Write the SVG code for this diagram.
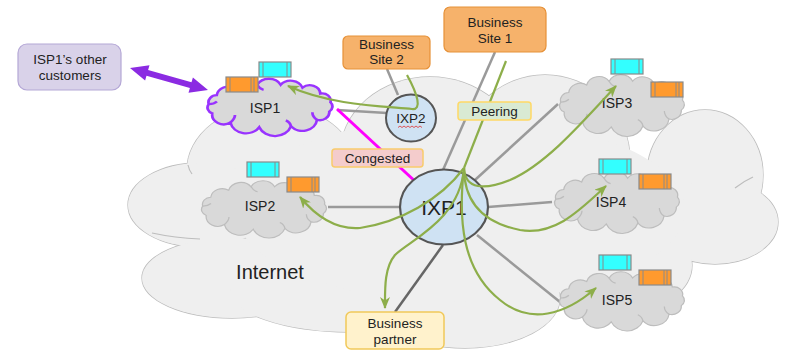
<svg xmlns="http://www.w3.org/2000/svg" width="785" height="350" viewBox="0 0 785 350">
<style>
text{font-family:"Liberation Sans",Arial,sans-serif;fill:#222;text-anchor:middle}
.lbl{font-size:13.5px}
.isp{font-size:14px}
.cl ellipse{fill:#efefef;stroke:#bdbdbd;stroke-width:1.3}
.clf ellipse{fill:#efefef;stroke:none}
.isp-cloud{fill:#d9d9d9;stroke:#bdbdbd;stroke-width:1.2}
.curl{fill:none;stroke:#bdbdbd;stroke-width:1.2}
.spoke{stroke:#9a9a9a;stroke-width:2.5;fill:none}
.flow{stroke:#8dae4a;stroke-width:2.2;fill:none}
.flow-a{marker-end:url(#ga)}
.cy{fill:#33ffff;stroke:#8a8a8a;stroke-width:1.2}
.or{fill:#ff9a2e;stroke:#8a8a8a;stroke-width:1.2}
.tick{stroke:#8a8a8a;stroke-width:1}
</style>
<defs>
<marker id="ga" viewBox="0 0 12 10" refX="11" refY="5" markerWidth="12" markerHeight="10" markerUnits="userSpaceOnUse" orient="auto">
<path d="M0,0 L12,5 L0,10 L3.5,5 z" fill="#8dae4a"/>
</marker>
<path id="cloud" d="M11.5,38.2 A7,7 0 0 1 8.2,27.9 A8,8 0 0 1 15.8,18 A11,11 0 0 1 32.7,10.3 A12,12 0 0 1 53.9,6.5 A12.5,12.5 0 0 1 76.1,6.4 A12,12 0 0 1 96.7,9.6 A10,10 0 0 1 113.5,16.2 A8,8 0 0 1 123.1,25.8 A7,7 0 0 1 122,36.2 A9,9 0 0 1 110.4,45.4 A14,14 0 0 1 85.8,52.6 A16,16 0 0 1 55.9,53.6 A15,15 0 0 1 28.7,48.4 A11,11 0 0 1 11.5,38.2 Z"/>
<g id="curls">
<path d="M28.7,48.4 Q33,44 33,40"/>
<path d="M110.4,45.4 Q106,42 106,37"/>
<path d="M53.9,6.5 Q56,11 60,12"/>
<path d="M85.8,52.6 Q85,48 81,46"/>
<path d="M8.2,27.9 Q13,28 16,25"/>
</g>
<g id="cyanbox"><rect class="cy" x="0" y="0" width="32" height="15"/><line class="tick" x1="4" y1="0" x2="4" y2="15"/><line class="tick" x1="28" y1="0" x2="28" y2="15"/></g>
<g id="orbox"><rect class="or" x="0" y="0" width="32" height="15"/><line class="tick" x1="4" y1="0" x2="4" y2="15"/><line class="tick" x1="25" y1="0" x2="25" y2="15"/><line class="tick" x1="28" y1="0" x2="28" y2="15"/></g>
</defs>

<g id="internet">
<g class="cl">
<ellipse cx="272" cy="170" rx="85" ry="65"/>
<ellipse cx="200" cy="205" rx="72" ry="42"/>
<ellipse cx="232" cy="278" rx="90" ry="40"/>
<ellipse cx="350" cy="290" rx="120" ry="42"/>
<ellipse cx="465" cy="298" rx="95" ry="50"/>
<ellipse cx="430" cy="155" rx="90" ry="78"/>
<ellipse cx="545" cy="160" rx="85" ry="85"/>
<ellipse cx="705" cy="175" rx="58" ry="65"/>
<ellipse cx="715" cy="222" rx="63" ry="42"/>
<ellipse cx="630" cy="265" rx="62" ry="45"/>
</g>
<g class="clf">
<ellipse cx="272" cy="170" rx="85" ry="65"/>
<ellipse cx="200" cy="205" rx="72" ry="42"/>
<ellipse cx="232" cy="278" rx="90" ry="40"/>
<ellipse cx="350" cy="290" rx="120" ry="42"/>
<ellipse cx="465" cy="298" rx="95" ry="50"/>
<ellipse cx="430" cy="155" rx="90" ry="78"/>
<ellipse cx="545" cy="160" rx="85" ry="85"/>
<ellipse cx="705" cy="175" rx="58" ry="65"/>
<ellipse cx="715" cy="222" rx="63" ry="42"/>
<ellipse cx="630" cy="265" rx="62" ry="45"/>
<ellipse cx="460" cy="210" rx="225" ry="92"/>
</g>
<path class="curl" d="M152,233 Q175,238 200,239"/>
<path class="curl" d="M188,165 Q189,170 192,174"/>
<path class="curl" d="M735,188 Q744,181 753,177"/>
<text x="270" y="279" style="font-size:20px">Internet</text>
</g>

<g id="connectors">
<line class="spoke" x1="337" y1="110" x2="387" y2="113"/>
<line class="spoke" x1="387" y1="69" x2="398" y2="95"/>
<line class="spoke" x1="495" y1="52" x2="443" y2="170"/>
<line class="spoke" x1="475" y1="180" x2="558" y2="104"/>
<line class="spoke" x1="488" y1="207" x2="552" y2="202"/>
<line class="spoke" x1="477" y1="235" x2="560" y2="302"/>
<line class="spoke" x1="328" y1="207" x2="400" y2="207"/>
<line class="spoke" x1="443" y1="245" x2="395" y2="312" style="stroke:#666"/>
<line x1="337" y1="109" x2="418" y2="184" stroke="#ff00ff" stroke-width="3"/>
<path d="M130,68 L149.5,65.2 L148.1,70 L191.5,82.2 L192.9,77.4 L208,90 L188.5,92.8 L189.9,88 L146.5,75.8 L145.1,80.6 Z" fill="#8b2be2"/>
</g>

<g id="isp1">
<use href="#cloud" class="isp-cloud" transform="translate(200,79) scale(1.06,0.9)" style="stroke:#9933ff;stroke-width:2.6"/>
<use href="#curls" class="curl" transform="translate(200,79) scale(1.06,0.9)" style="stroke:#9933ff;stroke-width:2.6"/>
<use href="#cyanbox" x="259" y="62"/>
<use href="#orbox" x="226" y="77"/>
<text class="isp" x="265" y="113">ISP1</text>
</g>
<g id="isp2">
<use href="#cloud" class="isp-cloud" transform="translate(194,181) scale(1.06,0.9)"/>
<use href="#curls" class="curl" transform="translate(194,181) scale(1.06,0.9)"/>
<use href="#cyanbox" x="247" y="162"/>
<use href="#orbox" x="287" y="177"/>
<text class="isp" x="260" y="211">ISP2</text>
</g>
<g id="isp3">
<use href="#cloud" class="isp-cloud" transform="translate(552,75) scale(1.06,0.97)"/>
<use href="#curls" class="curl" transform="translate(552,75) scale(1.06,0.97)"/>
<use href="#cyanbox" x="611" y="59"/>
<use href="#orbox" x="651" y="82"/>
<text class="isp" x="617" y="108">ISP3</text>
</g>
<g id="isp4">
<use href="#cloud" class="isp-cloud" transform="translate(547,172) scale(1.06,0.97)"/>
<use href="#curls" class="curl" transform="translate(547,172) scale(1.06,0.97)"/>
<use href="#cyanbox" x="599" y="159"/>
<use href="#orbox" x="639" y="174"/>
<text class="isp" x="611" y="207">ISP4</text>
</g>
<g id="isp5">
<use href="#cloud" class="isp-cloud" transform="translate(552,272) scale(1.06,0.93)"/>
<use href="#curls" class="curl" transform="translate(552,272) scale(1.06,0.93)"/>
<use href="#cyanbox" x="599" y="255"/>
<use href="#orbox" x="639" y="270"/>
<text class="isp" x="617" y="305">ISP5</text>
</g>

<g id="ixp2">
<ellipse cx="411" cy="118" rx="25" ry="23.5" fill="#cfe2f3" stroke="#555" stroke-width="2"/>
<text x="411" y="123" style="font-size:13.5px">IXP2</text>
<path d="M398,127.5 l2,-1.5 l2,1.5 l2,-1.5 l2,1.5 l2,-1.5 l2,1.5 l2,-1.5 l2,1.5 l2,-1.5 l2,1.5 l2,-1.5 l2,1.5" fill="none" stroke="#e03030" stroke-width="0.8"/>
</g>
<g id="ixp1">
<ellipse cx="444" cy="207" rx="44" ry="37.5" fill="#cfe2f3" stroke="#555" stroke-width="2.2"/>
<text x="444" y="215" style="font-size:21px">IXP1</text>
</g>

<g id="flows">
<path class="flow flow-a" d="M407,75 C418,95 422,110 412,109 C380,106 330,105 288,86"/>
<path class="flow" d="M506,61 L464,168"/>
<path class="flow flow-a" d="M464,168 C465,190 485,190 510,180 C545,165 580,125 616,86"/>
<path class="flow flow-a" d="M464,168 C464,200 480,222 520,230 C555,236 580,210 606,186"/>
<path class="flow flow-a" d="M464,168 C458,220 462,270 500,300 C530,325 565,315 596,288"/>
<path class="flow flow-a" d="M464,168 C440,200 400,222 360,228 C335,230 315,215 300,197"/>
<path class="flow flow-a" d="M464,168 C460,220 410,240 395,255 C384,268 385,290 385,308"/>
</g>

<g id="customers">
<rect x="18" y="44" width="103" height="46" rx="9" fill="#d9d2e9" stroke="#b4a7d6" stroke-width="1.2"/>
<text class="lbl" x="70" y="64">ISP1’s other</text>
<text class="lbl" x="70" y="80">customers</text>
</g>
<g id="site2">
<rect x="343" y="36" width="87" height="33" rx="5" fill="#f6b26b" stroke="#e69138" stroke-width="1.2"/>
<text class="lbl" x="386.5" y="49">Business</text>
<text class="lbl" x="386.5" y="64">Site 2</text>
</g>
<g id="site1">
<rect x="444" y="7" width="102" height="45" rx="6" fill="#f6b26b" stroke="#e69138" stroke-width="1.2"/>
<text class="lbl" x="495" y="27">Business</text>
<text class="lbl" x="495" y="43">Site 1</text>
</g>
<g id="peering">
<rect x="458" y="102" width="73" height="18" rx="3" fill="#d9ead3" stroke="#ffd966" stroke-width="1.5"/>
<text class="lbl" x="494.5" y="116">Peering</text>
</g>
<g id="congested">
<rect x="332" y="149" width="91" height="18" rx="3" fill="#f4cccc" stroke="#f9cb6c" stroke-width="1.5"/>
<text class="lbl" x="377.5" y="163">Congested</text>
</g>
<g id="partner">
<rect x="346" y="312" width="98" height="37" rx="5" fill="#fff2cc" stroke="#f1c95a" stroke-width="1.5"/>
<text class="lbl" x="395" y="328">Business</text>
<text class="lbl" x="395" y="344">partner</text>
</g>
</svg>
